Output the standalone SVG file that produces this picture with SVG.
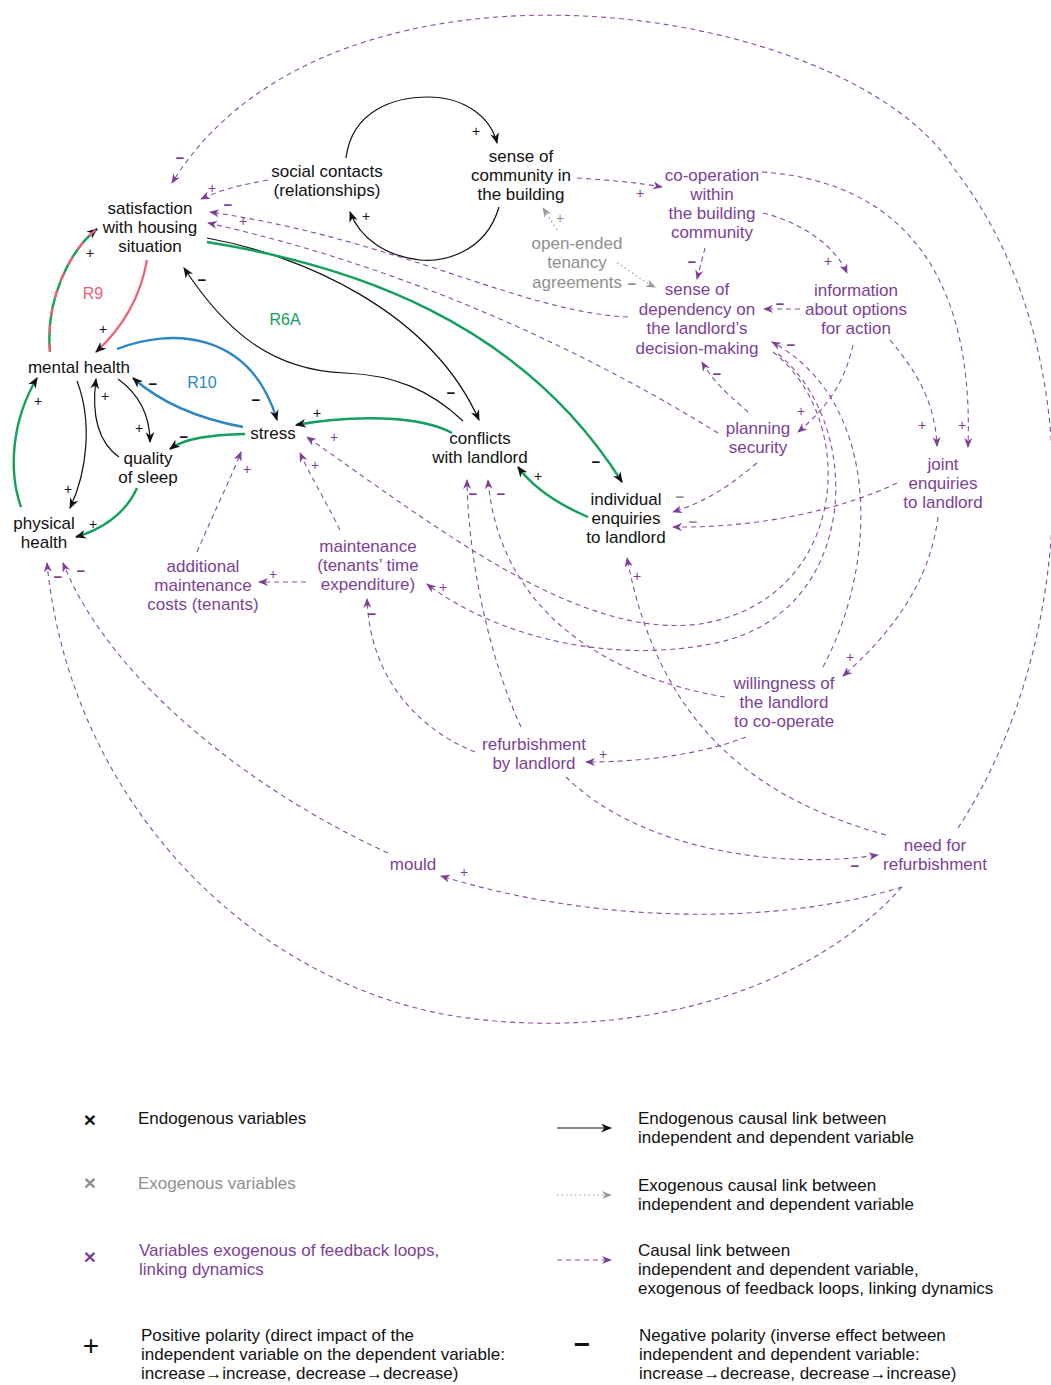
<svg xmlns="http://www.w3.org/2000/svg" width="1051" height="1385" viewBox="0 0 1051 1385">
<style>
  text { font-family: "Liberation Sans", Arial, sans-serif; }
  .t { font-size: 17px; text-anchor: middle; }
  .tl { font-size: 17px; text-anchor: start; }
  .k { fill: #111; }
  .g { fill: #8f8f8f; }
  .v { fill: #7d3f98; }
  .s { font-size: 14px; text-anchor: middle; }
  .m { font-size: 15px; font-weight: bold; text-anchor: middle; }
  .loop { font-size: 16px; text-anchor: middle; }
  .ck { fill: none; stroke: #111; stroke-width: 1.2; }
  .cg { fill: none; stroke: #13a05b; stroke-width: 2.4; }
  .cr { fill: none; stroke: #ee6078; stroke-width: 2.2; }
  .cb { fill: none; stroke: #2c86c3; stroke-width: 2.4; }
  .cp { fill: none; stroke: #8a4ba3; stroke-width: 1.1; stroke-dasharray: 5 4; }
  .cx { fill: none; stroke: #999; stroke-width: 1.2; stroke-dasharray: 1.5 3; }
</style>
<defs>
  <marker id="ak" viewBox="0 0 10 8" refX="9" refY="4" markerWidth="11" markerHeight="9" orient="auto" markerUnits="userSpaceOnUse">
    <path d="M0,0 L10,4 L0,8 L3,4 z" fill="#111"/>
  </marker>
  <marker id="ap" viewBox="0 0 10 8" refX="9" refY="4" markerWidth="10" markerHeight="8" orient="auto" markerUnits="userSpaceOnUse">
    <path d="M0,0 L10,4 L0,8 L3,4 z" fill="#7d3f98"/>
  </marker>
  <marker id="ax" viewBox="0 0 10 8" refX="9" refY="4" markerWidth="10" markerHeight="8" orient="auto" markerUnits="userSpaceOnUse">
    <path d="M0,0 L10,4 L0,8 L3,4 z" fill="#999"/>
  </marker>
</defs>

<g id="connectors">
  <!-- endogenous links (black) -->
  <path class="ck" marker-end="url(#ak)" d="M346,158 C352,110 395,97 428,97 C462,97 490,115 497,143"/>
  <path class="ck" marker-end="url(#ak)" d="M499,207 C485,255 440,262 420,260 C385,256 360,238 350,212"/>
  <path class="ck" marker-end="url(#ak)" d="M207,238 C300,255 430,310 479,420"/>
  <path class="ck" marker-end="url(#ak)" d="M463,421 C430,390 395,375 345,373 C270,370 225,330 184,268"/>
  <path class="ck" marker-end="url(#ak)" d="M77,381 C92,420 88,470 70,508"/>
  <path class="ck" marker-end="url(#ak)" d="M119,457 C95,440 92,410 96,379"/>
  <path class="ck" marker-end="url(#ak)" d="M118,379 C140,395 150,415 150,442"/>

  <!-- loop R6A (green) -->
  <path class="cg" marker-end="url(#ak)" d="M207,242 C350,265 520,320 622,482"/>
  <path class="cg" marker-end="url(#ak)" d="M588,517 C560,505 535,490 518,467"/>
  <path class="cg" marker-end="url(#ak)" d="M452,433 C420,415 350,415 296,425"/>
  <path class="cg" marker-end="url(#ak)" d="M245,434 C210,435 185,438 170,449"/>
  <path class="cg" marker-end="url(#ak)" d="M137,488 C125,515 100,530 76,537"/>
  <path class="cg" marker-end="url(#ak)" d="M21,507 C8,470 12,420 37,378"/>
  <!-- shared by R9 and R6A -->
  <path class="cg" marker-end="url(#ak)" d="M50,352 C45,300 70,250 97,229"/>
  <path class="cr" stroke-dasharray="9 9" d="M50,352 C45,300 70,250 97,229"/>

  <!-- loop R9 (red) -->
  <path class="cr" marker-end="url(#ak)" d="M147,260 C140,300 120,330 96,352"/>

  <!-- loop R10 (blue) -->
  <path class="cb" marker-end="url(#ak)" d="M117,349 C170,328 250,330 277,420"/>
  <path class="cb" marker-end="url(#ak)" d="M243,427 C195,418 160,402 133,378"/>

  <!-- exogenous links (grey dotted) -->
  <path class="cx" marker-end="url(#ax)" d="M557,230 L543,208"/>
  <path class="cx" marker-end="url(#ax)" d="M617,263 C630,270 640,280 655,287"/>

  <!-- linking dynamics (purple dashed) -->
  <path class="cp" marker-end="url(#ap)" d="M577,178 C610,180 640,183 662,187"/>
  <path class="cp" marker-end="url(#ap)" d="M268,180 C240,185 220,190 201,199"/>
  <path class="cp" marker-end="url(#ap)" d="M958,828 C1075,650 1095,350 955,170 C850,0 330,-75 172,183"/>
  <path class="cp" marker-end="url(#ap)" d="M762,172 C880,180 975,250 968,447"/>
  <path class="cp" marker-end="url(#ap)" d="M763,213 C800,222 835,245 847,273"/>
  <path class="cp" marker-end="url(#ap)" d="M705,248 L697,279"/>
  <path class="cp" marker-end="url(#ap)" d="M800,309 L764,309"/>
  <path class="cp" marker-end="url(#ap)" d="M890,340 C915,370 935,400 937,446"/>
  <path class="cp" marker-end="url(#ap)" d="M853,345 C845,380 830,405 798,432"/>
  <path class="cp" marker-end="url(#ap)" d="M748,412 C735,400 715,385 702,362"/>
  <path class="cp" marker-end="url(#ap)" d="M628,317 C520,312 400,240 210,212"/>
  <path class="cp" marker-end="url(#ap)" d="M718,433 C600,360 420,270 208,223"/>
  <path class="cp" marker-end="url(#ap)" d="M897,483 C840,510 760,528 673,527"/>
  <path class="cp" marker-end="url(#ap)" d="M757,463 C730,485 710,500 673,512"/>
  <path class="cp" marker-end="url(#ap)" d="M938,517 C930,580 895,630 843,676"/>
  <path class="cp" marker-end="url(#ap)" d="M746,737 C700,755 640,762 586,762"/>
  <path class="cp" marker-end="url(#ap)" d="M566,777 C640,850 780,870 878,855"/>
  <path class="cp" marker-end="url(#ap)" d="M902,887 C780,925 600,925 441,876"/>
  <path class="cp" marker-end="url(#ap)" d="M902,887 C800,1000 620,1040 460,1017 C250,985 70,800 47,563"/>
  <path class="cp" marker-end="url(#ap)" d="M388,853 C250,790 110,680 63,563"/>
  <path class="cp" marker-end="url(#ap)" d="M886,835 C760,800 660,730 627,558"/>
  <path class="cp" marker-end="url(#ap)" d="M521,727 C490,660 468,560 467,480"/>
  <path class="cp" marker-end="url(#ap)" d="M725,697 C620,680 500,620 488,480"/>
  <path class="cp" marker-end="url(#ap)" d="M823,667 C880,560 880,400 772,342"/>
  <path class="cp" marker-end="url(#ap)" d="M773,352 C860,420 850,600 700,624 C580,640 440,530 307,437"/>
  <path class="cp" marker-end="url(#ap)" d="M778,354 C865,425 860,610 720,642 C620,665 500,640 427,584"/>
  <path class="cp" marker-end="url(#ap)" d="M475,752 C420,730 370,680 367,599"/>
  <path class="cp" marker-end="url(#ap)" d="M340,530 C325,500 310,475 300,453"/>
  <path class="cp" marker-end="url(#ap)" d="M197,552 C215,510 230,480 241,452"/>
  <path class="cp" marker-end="url(#ap)" d="M306,582 L259,582"/>

  <!-- polarities of endogenous links -->
  <g class="k">
    <text class="s" x="476" y="136">+</text>
    <text class="s" x="366" y="221">+</text>
    <text class="m" x="451" y="398">−</text>
    <text class="m" x="202" y="285">−</text>
    <text class="m" x="596" y="467">−</text>
    <text class="s" x="538" y="481">+</text>
    <text class="s" x="317" y="418">+</text>
    <text class="m" x="184" y="442">−</text>
    <text class="s" x="93" y="529">+</text>
    <text class="s" x="38" y="406">+</text>
    <text class="s" x="90" y="258">+</text>
    <text class="s" x="103" y="334">+</text>
    <text class="m" x="256" y="405">−</text>
    <text class="m" x="153" y="389">−</text>
    <text class="s" x="68" y="494">+</text>
    <text class="s" x="105" y="401">+</text>
    <text class="s" x="139" y="433">+</text>
  </g>
  <g class="g">
    <text class="s" x="560" y="223">+</text>
    <text class="m" x="632" y="289">−</text>
    <text class="m" x="680" y="502">−</text>
    <text class="m" x="693" y="527">−</text>
  </g>
  <g class="v">
    <text class="s" x="640" y="198">+</text>
    <text class="s" x="212" y="193">+</text>
    <text class="m" x="180" y="163">−</text>
    <text class="s" x="962" y="430">+</text>
    <text class="s" x="828" y="266">+</text>
    <text class="m" x="692" y="267">−</text>
    <text class="m" x="780" y="309">−</text>
    <text class="s" x="922" y="430">+</text>
    <text class="s" x="801" y="416">+</text>
    <text class="m" x="717" y="379">−</text>
    <text class="s" x="243" y="226">+</text>
    <text class="m" x="228" y="210">−</text>
    <text class="s" x="850" y="662">+</text>
    <text class="s" x="603" y="759">+</text>
    <text class="m" x="855" y="871">−</text>
    <text class="s" x="464" y="877">+</text>
    <text class="m" x="58" y="582">−</text>
    <text class="m" x="81" y="576">−</text>
    <text class="s" x="637" y="581">+</text>
    <text class="m" x="473" y="499">−</text>
    <text class="m" x="501" y="499">−</text>
    <text class="m" x="791" y="350">−</text>
    <text class="s" x="334" y="442">+</text>
    <text class="s" x="443" y="592">+</text>
    <text class="m" x="372" y="619">−</text>
    <text class="s" x="315" y="470">+</text>
    <text class="s" x="247" y="474">+</text>
    <text class="s" x="273" y="579">+</text>
  </g>
</g>

<!-- loop names -->
<text class="loop" x="93" y="299" fill="#ee6078">R9</text>
<text class="loop" x="285" y="325" fill="#13a05b">R6A</text>
<text class="loop" x="202" y="388" fill="#2c86c3">R10</text>

<!-- endogenous variables -->
<g id="n-satisfaction"><text class="t k"><tspan x="150" y="214">satisfaction</tspan><tspan x="150" y="233">with housing</tspan><tspan x="150" y="252">situation</tspan></text></g>
<g id="n-social-contacts"><text class="t k"><tspan x="327" y="177">social contacts</tspan><tspan x="327" y="196">(relationships)</tspan></text></g>
<g id="n-sense-of-community"><text class="t k"><tspan x="521" y="162">sense of</tspan><tspan x="521" y="181">community in</tspan><tspan x="521" y="200">the building</tspan></text></g>
<g id="n-mental-health"><text class="t k" x="79" y="373">mental health</text></g>
<g id="n-quality-of-sleep"><text class="t k"><tspan x="148" y="464">quality</tspan><tspan x="148" y="483">of sleep</tspan></text></g>
<g id="n-physical-health"><text class="t k"><tspan x="44" y="529">physical</tspan><tspan x="44" y="548">health</tspan></text></g>
<g id="n-stress"><text class="t k" x="273" y="439">stress</text></g>
<g id="n-conflicts"><text class="t k"><tspan x="480" y="444">conflicts</tspan><tspan x="480" y="463">with landlord</tspan></text></g>
<g id="n-individual-enquiries"><text class="t k"><tspan x="626" y="505">individual</tspan><tspan x="626" y="524">enquiries</tspan><tspan x="626" y="543">to landlord</tspan></text></g>

<!-- exogenous variable -->
<g id="n-open-ended"><text class="t g"><tspan x="577" y="249">open-ended</tspan><tspan x="577" y="268">tenancy</tspan><tspan x="577" y="288">agreements</tspan></text></g>

<!-- variables linking the loops -->
<g id="n-co-operation"><text class="t v"><tspan x="712" y="181">co-operation</tspan><tspan x="712" y="200">within</tspan><tspan x="712" y="219">the building</tspan><tspan x="712" y="238">community</tspan></text></g>
<g id="n-dependency"><text class="t v"><tspan x="697" y="295">sense of</tspan><tspan x="697" y="315">dependency on</tspan><tspan x="697" y="334">the landlord’s</tspan><tspan x="697" y="354">decision-making</tspan></text></g>
<g id="n-information"><text class="t v"><tspan x="856" y="296">information</tspan><tspan x="856" y="315">about options</tspan><tspan x="856" y="334">for action</tspan></text></g>
<g id="n-planning-security"><text class="t v"><tspan x="758" y="434">planning</tspan><tspan x="758" y="453">security</tspan></text></g>
<g id="n-joint-enquiries"><text class="t v"><tspan x="943" y="470">joint</tspan><tspan x="943" y="489">enquiries</tspan><tspan x="943" y="508">to landlord</tspan></text></g>
<g id="n-additional-costs"><text class="t v"><tspan x="203" y="572">additional</tspan><tspan x="203" y="591">maintenance</tspan><tspan x="203" y="610">costs (tenants)</tspan></text></g>
<g id="n-maintenance"><text class="t v"><tspan x="368" y="552">maintenance</tspan><tspan x="368" y="571">(tenants’ time</tspan><tspan x="368" y="590">expenditure)</tspan></text></g>
<g id="n-willingness"><text class="t v"><tspan x="784" y="689">willingness of</tspan><tspan x="784" y="708">the landlord</tspan><tspan x="784" y="727">to co-operate</tspan></text></g>
<g id="n-refurbishment"><text class="t v"><tspan x="534" y="750">refurbishment</tspan><tspan x="534" y="769">by landlord</tspan></text></g>
<g id="n-need-for-refurbishment"><text class="t v"><tspan x="935" y="851">need for</tspan><tspan x="935" y="870">refurbishment</tspan></text></g>
<g id="n-mould"><text class="t v" x="413" y="870">mould</text></g>

<!-- key -->
<g id="legend">
  <text x="90" y="1127" font-size="21" font-weight="bold" text-anchor="middle" fill="#111">×</text>
  <text class="tl k" x="138" y="1124">Endogenous variables</text>
  <text x="90" y="1190" font-size="21" font-weight="bold" text-anchor="middle" fill="#8f8f8f">×</text>
  <text class="tl g" x="138" y="1189">Exogenous variables</text>
  <text x="90" y="1264" font-size="21" font-weight="bold" text-anchor="middle" fill="#7d3f98">×</text>
  <text class="tl v"><tspan x="139" y="1256">Variables exogenous of feedback loops,</tspan><tspan x="139" y="1275">linking dynamics</tspan></text>
  <text x="91" y="1355" font-size="28" text-anchor="middle" fill="#111">+</text>
  <text class="tl k"><tspan x="141" y="1341">Positive polarity (direct impact of the</tspan><tspan x="141" y="1360">independent variable on the dependent variable:</tspan><tspan x="141" y="1379">increase→increase, decrease→decrease)</tspan></text>

  <path class="ck" marker-end="url(#ak)" d="M557,1128 L611,1128"/>
  <text class="tl k"><tspan x="638" y="1124">Endogenous causal link between</tspan><tspan x="638" y="1143">independent and dependent variable</tspan></text>
  <path class="cx" marker-end="url(#ax)" d="M557,1195 L611,1195"/>
  <text class="tl k"><tspan x="638" y="1191">Exogenous causal link between</tspan><tspan x="638" y="1210">independent and dependent variable</tspan></text>
  <path class="cp" marker-end="url(#ap)" d="M557,1260 L611,1260"/>
  <text class="tl k"><tspan x="638" y="1256">Causal link between</tspan><tspan x="638" y="1275">independent and dependent variable,</tspan><tspan x="638" y="1294">exogenous of feedback loops, linking dynamics</tspan></text>
  <text x="582" y="1354" font-size="28" font-weight="bold" text-anchor="middle" fill="#111">−</text>
  <text class="tl k"><tspan x="639" y="1341">Negative polarity (inverse effect between</tspan><tspan x="639" y="1360">independent and dependent variable:</tspan><tspan x="639" y="1379">increase→decrease, decrease→increase)</tspan></text>
</g>
</svg>
